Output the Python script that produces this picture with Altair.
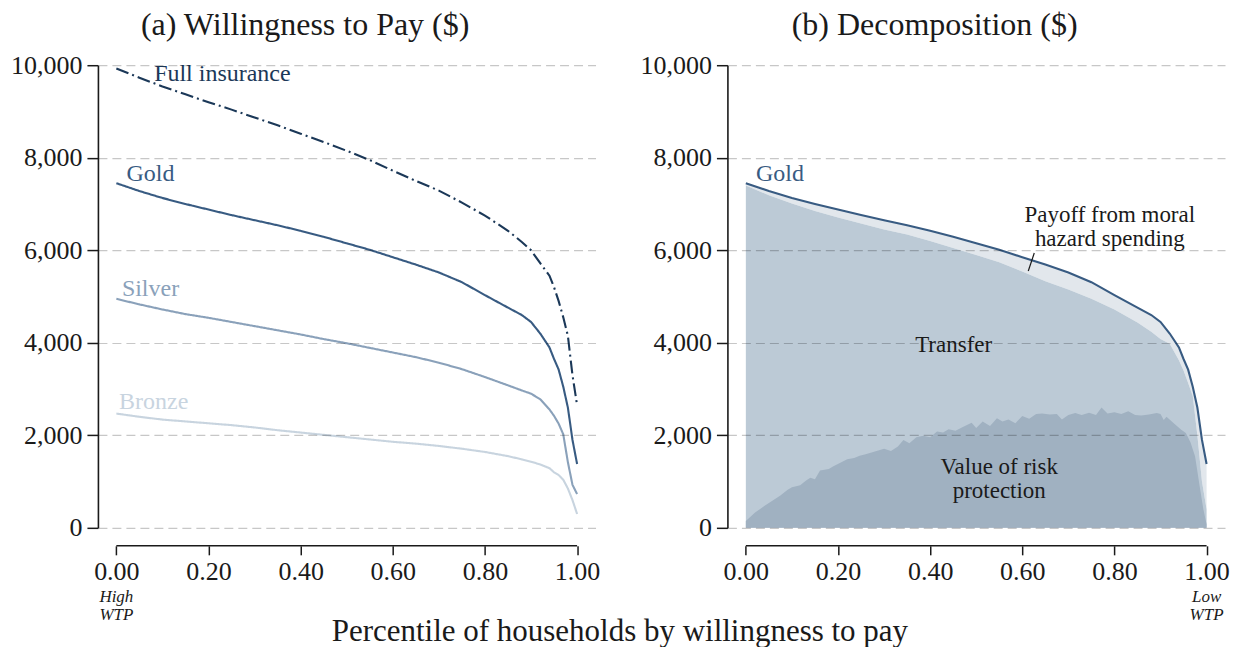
import altair as alt
import pandas as pd

# ---------------- data ----------------
X_GRID = [0.0, 0.05, 0.10, 0.15, 0.20, 0.25, 0.30, 0.35, 0.40, 0.45, 0.50, 0.55,
          0.60, 0.65, 0.70, 0.75, 0.80, 0.85, 0.88, 0.90, 0.92, 0.94, 0.95,
          0.96, 0.97, 0.98, 0.99, 1.00]
FULL = [9930, 9730, 9540, 9370, 9200, 9040, 8870, 8700, 8520, 8340, 8150, 7950,
        7720, 7500, 7290, 7030, 6750, 6420, 6180, 6000, 5720, 5450, 5200,
        4900, 4550, 4150, 3300, 2650]
GOLD = [7450, 7280, 7130, 7000, 6880, 6760, 6650, 6540, 6420, 6290, 6150, 6010,
        5850, 5690, 5520, 5310, 5030, 4760, 4600, 4450, 4200, 3900, 3650,
        3420, 3050, 2600, 1900, 1380]
SILVER = [4950, 4830, 4720, 4620, 4540, 4450, 4360, 4270, 4180, 4080, 3990, 3890,
          3790, 3690, 3570, 3430, 3260, 3080, 2970, 2900, 2780, 2560, 2420,
          2250, 2020, 1420, 930, 730]
BRONZE = [2470, 2400, 2340, 2300, 2260, 2220, 2170, 2110, 2060, 2010, 1960, 1910,
          1860, 1820, 1770, 1710, 1640, 1550, 1480, 1430, 1370, 1290, 1200,
          1140, 1040, 850, 600, 300]
TRANSFER = [7400, 7190, 7010, 6850, 6710, 6580, 6450, 6340, 6200, 6050, 5900, 5740,
            5540, 5330, 5150, 4950, 4720, 4440, 4240, 4080, 3980, 3620, 3400,
            3130, 2850, 2000, 1000, 400]
RISK_X = [0.0, 0.02, 0.04, 0.06, 0.075, 0.09, 0.10, 0.118, 0.13, 0.14, 0.15, 0.161,
          0.18, 0.19, 0.204, 0.22, 0.235, 0.247, 0.26, 0.28, 0.30, 0.315, 0.33,
          0.342, 0.355, 0.37, 0.385, 0.40, 0.415, 0.428, 0.44, 0.455, 0.471,
          0.49, 0.50, 0.514, 0.53, 0.545, 0.557, 0.57, 0.585, 0.60, 0.615, 0.63,
          0.643, 0.66, 0.675, 0.686, 0.70, 0.715, 0.729, 0.745, 0.76, 0.772,
          0.785, 0.80, 0.815, 0.83, 0.845, 0.858, 0.875, 0.892, 0.90, 0.907,
          0.913, 0.93, 0.945, 0.955, 0.965, 0.975, 0.985, 0.993, 1.0]
RISK = [150, 330, 470, 600, 700, 820, 880, 920, 1020, 1080, 1050, 1240,
        1270, 1330, 1400, 1480, 1510, 1560, 1590, 1650, 1710, 1660, 1760,
        1900, 1830, 1960, 1990, 1960, 2080, 2060, 2130, 2100, 2180,
        2270, 2160, 2300, 2200, 2370, 2300, 2340, 2260, 2420, 2360, 2460,
        2470, 2450, 2460, 2340, 2440, 2480, 2440, 2490, 2440, 2600,
        2470, 2500, 2460, 2520, 2440, 2430, 2450, 2480, 2460, 2330,
        2400, 2250, 2120, 2050, 1850, 1550, 900, 400, 80]

PLANS = ["Full insurance", "Gold", "Silver", "Bronze"]
X_TICKS = [0.0, 0.2, 0.4, 0.6, 0.8, 1.0]
Y_TICKS = [0, 2000, 4000, 6000, 8000, 10000]
TITLE_A = "(a) Willingness to Pay ($)"
TITLE_B = "(b) Decomposition ($)"
X_TITLE = "Percentile of households by willingness to pay"
HIGH_TXT = "High\nWTP"
LOW_TXT = "Low\nWTP"
PAYOFF_TXT = "Payoff from moral\nhazard spending"
TRANSFER_TXT = "Transfer"
RISK_TXT = "Value of risk\nprotection"

# ---------------- styling ----------------
FONT = "Liberation Serif"
C_FULL = "#1b3858"
C_GOLD = "#385b82"
C_SILVER = "#8aa1ba"
C_BRONZE = "#c8d4df"
C_LIGHT = "#e2e7ec"
C_MED = "#bccad6"
C_DARK = "#a0b1c1"
INK = "#1a1a1a"

W, H = 498, 463

xscale = alt.Scale(domain=[-0.04, 1.04], nice=False, zero=False)
yscale = alt.Scale(domain=[0, 10000], nice=False)

xaxis = alt.Axis(values=X_TICKS, format=".2f", domain=False, grid=False, offset=18,
                 tickSize=9, tickColor=INK, tickWidth=1.5, labelFont=FONT,
                 labelFontSize=26, labelColor=INK, labelPadding=4, title=None,
                 labelFlush=False)
yaxis = alt.Axis(values=Y_TICKS, format=",.0f", domain=True, domainColor=INK,
                 domainWidth=1.6, grid=True, gridColor="#000000", gridOpacity=0.22,
                 gridDash=[9, 5], gridWidth=1.2, tickSize=11, tickColor=INK,
                 tickWidth=1.5, labelFont=FONT, labelFontSize=26, labelColor=INK,
                 labelPadding=5, title=None, zindex=1)


def xe(field):
    return alt.X(field, type="quantitative", scale=xscale, axis=xaxis)


def ye(field):
    return alt.Y(field, type="quantitative", scale=yscale, axis=yaxis)


# ---------------- tables ----------------
rows = []
for plan, vals in zip(PLANS, [FULL, GOLD, SILVER, BRONZE]):
    for x, y in zip(X_GRID, vals):
        rows.append({"plan": plan, "x": x, "y": y})
lines_df = pd.DataFrame(rows)
decomp_df = pd.DataFrame({"x": X_GRID, "gold": GOLD, "transfer": TRANSFER})
risk_df = pd.DataFrame({"x": RISK_X, "risk": RISK})
axisline_df = pd.DataFrame({"a": [X_TICKS[0]], "b": [X_TICKS[-1]]})

left_labels = pd.DataFrame({
    "text": PLANS,
    "x": [0.082, 0.022, 0.012, 0.006],
    "y": [9654, 7495, 5011, 2570],
    "c": [C_FULL, C_GOLD, C_SILVER, C_BRONZE],
})

# ---------------- left panel ----------------
lines = alt.Chart(lines_df).mark_line(strokeWidth=2.1).encode(
    x=xe("x"), y=ye("y"),
    color=alt.Color("plan:N", scale=alt.Scale(domain=PLANS,
                    range=[C_FULL, C_GOLD, C_SILVER, C_BRONZE]), legend=None),
    strokeDash=alt.StrokeDash("plan:N", scale=alt.Scale(domain=PLANS,
                              range=[[13, 4, 2, 4], [1, 0], [1, 0], [1, 0]]), legend=None),
)

lbl_left = alt.Chart(left_labels).mark_text(
    font=FONT, fontSize=24, align="left", baseline="alphabetic"
).encode(x=xe("x"), y=ye("y"), text="text:N", color=alt.Color("c:N", scale=None))


def axis_line():
    return alt.Chart(axisline_df).mark_rule(color=INK, strokeWidth=1.6).encode(
        x=xe("a"), x2="b", y=alt.value(H + 18))


def wtp_note(field, txt):
    return alt.Chart(axisline_df).mark_text(
        font=FONT, fontSize=17, fontStyle="italic", lineBreak="\n", lineHeight=18,
        align="center", baseline="alphabetic", color=INK
    ).encode(x=xe(field), y=alt.value(H + 74), text=alt.value(txt))


TITLE_STYLE = dict(font=FONT, fontSize=32, fontWeight="normal", color=INK,
                   anchor="middle", frame="bounds", offset=10)

left = alt.layer(lines, lbl_left, axis_line(), wtp_note("a", HIGH_TXT)).properties(
    width=W, height=H, title=alt.TitleParams(TITLE_A, **TITLE_STYLE))

# ---------------- right panel ----------------
light = alt.Chart(decomp_df).mark_area(color=C_LIGHT, opacity=1).encode(
    x=xe("x"), y=ye("gold"), y2="transfer")
med = alt.Chart(decomp_df).mark_area(color=C_MED, opacity=1).encode(
    x=xe("x"), y=ye("transfer"))
dark = alt.Chart(risk_df).mark_area(color=C_DARK, opacity=1).encode(
    x=xe("x"), y=ye("risk"))
gold_line = alt.Chart(decomp_df).mark_line(color=C_GOLD, strokeWidth=2.1).encode(
    x=xe("x"), y=ye("gold"))

lbl_gold = alt.Chart(pd.DataFrame({"text": ["Gold"], "x": [0.022], "y": [7495]})).mark_text(
    font=FONT, fontSize=24, align="left", baseline="alphabetic", color=C_GOLD
).encode(x=xe("x"), y=ye("y"), text="text:N")

center_df = pd.DataFrame({
    "text": [TRANSFER_TXT, PAYOFF_TXT, RISK_TXT],
    "x": [0.451, 0.79, 0.55],
    "y": [3801, 6609, 1166],
})
lbl_center = alt.Chart(center_df).mark_text(
    font=FONT, fontSize=23, align="center", baseline="alphabetic", lineBreak="\n",
    lineHeight=24, color=INK
).encode(x=xe("x"), y=ye("y"), text="text:N")

pointer_df = pd.DataFrame({"x": [0.626], "x2": [0.613], "y": [5940], "y2": [5551]})
pointer = alt.Chart(pointer_df).mark_rule(color=INK, strokeWidth=1.2).encode(
    x=xe("x"), x2="x2", y=ye("y"), y2="y2")

right = alt.layer(light, med, dark, gold_line, lbl_gold, lbl_center, pointer,
                  axis_line(), wtp_note("b", LOW_TXT)).properties(
    width=W, height=H, title=alt.TitleParams(TITLE_B, **TITLE_STYLE))

chart = alt.hconcat(left, right, spacing=39).properties(
    title=alt.TitleParams(X_TITLE, orient="bottom", anchor="middle", font=FONT,
                          fontSize=31, fontWeight="normal", color=INK, offset=-6),
    padding={"left": 2, "top": 1, "right": 5, "bottom": 0},
    background="white",
).configure_view(stroke=None)

chart.save("out.html", embed_options={"renderer": "svg", "actions": False})
